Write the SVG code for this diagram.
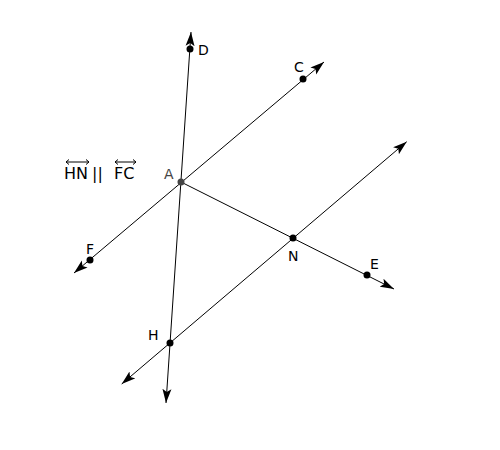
<svg xmlns="http://www.w3.org/2000/svg" width="500" height="450" viewBox="0 0 500 450">
<style>
.ln{stroke:#000;stroke-width:1;fill:none}
.lab{font-family:"DejaVu Sans","Liberation Sans",Arial,sans-serif;font-size:14px;fill:#000}
.pt{fill:#000}
</style>
<defs>
<marker id="ar" markerWidth="16" markerHeight="10" refX="14" refY="5" orient="auto-start-reverse" markerUnits="userSpaceOnUse">
<path d="M14,5 L0,0.5 L3,5 L0,9.5 z" fill="#000"/>
</marker>
</defs>
<rect width="500" height="450" fill="#fff"/>
<g id="connectors">
<line class="ln" x1="166" y1="403" x2="191" y2="32" marker-start="url(#ar)" marker-end="url(#ar)"/>
<line class="ln" x1="74" y1="273" x2="324" y2="62" marker-start="url(#ar)" marker-end="url(#ar)"/>
<line class="ln" x1="181" y1="182" x2="394" y2="289" marker-end="url(#ar)"/>
<line class="ln" x1="121.7" y1="384" x2="406.7" y2="141.7" marker-start="url(#ar)" marker-end="url(#ar)"/>
</g>
<g id="A"><circle cx="181" cy="182" r="3.5" fill="#444"/><text class="lab" x="164" y="179" style="fill:#444">A</text></g>
<g id="D"><circle class="pt" cx="190" cy="49" r="3.5"/><text class="lab" x="198" y="55">D</text></g>
<g id="C"><circle class="pt" cx="303" cy="79" r="3.5"/><text class="lab" x="294" y="72">C</text></g>
<g id="F"><circle class="pt" cx="90" cy="260" r="3.5"/><text class="lab" x="86" y="254">F</text></g>
<g id="N"><circle class="pt" cx="293" cy="238" r="3.5"/><text class="lab" x="288" y="261">N</text></g>
<g id="E"><circle class="pt" cx="367" cy="275" r="3.5"/><text class="lab" x="370" y="269">E</text></g>
<g id="H"><circle class="pt" cx="170" cy="343" r="3.5"/><text class="lab" x="148" y="340">H</text></g>
<g id="parallel">
<text class="lab" x="64" y="179" style="font-size:16px">HN</text>
<text class="lab" x="92" y="179" style="font-size:16px">||</text>
<text class="lab" x="114" y="179" style="font-size:16px">FC</text>
<g stroke="#000" stroke-width="1" fill="none">
<line x1="66" y1="162" x2="89" y2="162"/>
<path d="M69,159.5 L66,162 L69,164.5 M86,159.5 L89,162 L86,164.5"/>
<line x1="115" y1="162" x2="136" y2="162"/>
<path d="M118,159.5 L115,162 L118,164.5 M133,159.5 L136,162 L133,164.5"/>
</g>
</g>
</svg>
